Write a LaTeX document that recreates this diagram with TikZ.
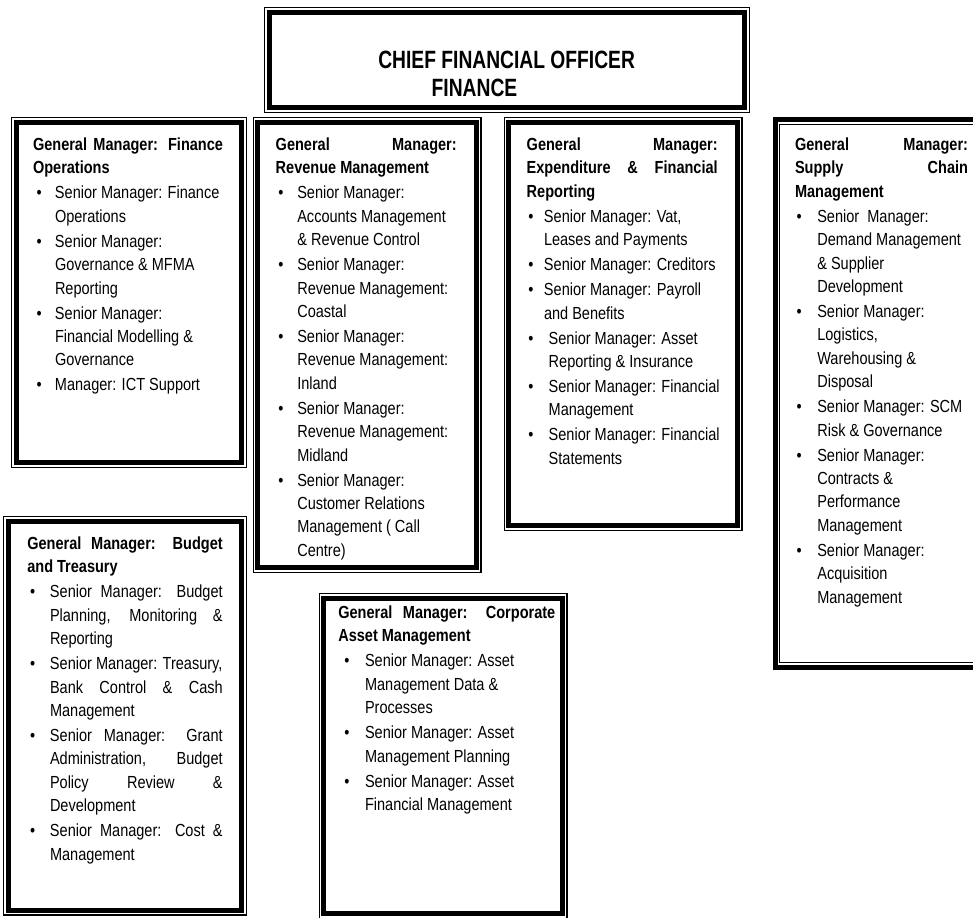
\documentclass[tikz,border=0pt]{standalone}
\usepackage{fontspec}
\setmainfont[FakeStretch=0.83]{Liberation Sans}
\newfontfamily\cfofont[FakeStretch=0.77]{Liberation Sans}
\newlength\ind \newlength\bul \newlength\hw
\newcommand\hd[1]{\makebox[\hw][s]{\bfseries #1}}
\newcommand\jst[1]{\makebox[\dimexpr\hw-\ind\relax][s]{#1}}
\newcommand\itm[1]{\par\hangindent=\ind\hangafter=1\noindent\makebox[\ind][l]{\hspace*{\bul}\textbullet}#1}
\newcommand\content[4]{%
  \begin{minipage}[t]{\dimexpr#1pt+40pt\relax}%
  \setlength\hw{#1pt}\setlength\ind{#2pt}\setlength\bul{#3pt}%
  \fontsize{17.5}{23.4}\selectfont\setlength\parskip{1.6pt}\setlength\parindent{0pt}%
  #4\end{minipage}}
\newcommand\nl{\newline}
\newcommand\tkborder[1]{%
  \draw[line width=1.1pt] ([shift={(0.55,0.55)}]#1.north west) rectangle ([shift={(-0.55,-0.55)}]#1.south east);
  \draw[line width=5pt] ([shift={(5.2,5.2)}]#1.north west) rectangle ([shift={(-5.2,-5.2)}]#1.south east);}
\newcommand\ktborder[1]{%
  \draw[line width=5pt] ([shift={(2.5,2.5)}]#1.north west) rectangle ([shift={(-2.5,-2.5)}]#1.south east);
  \draw[line width=1.1pt] ([shift={(7.15,7.15)}]#1.north west) rectangle ([shift={(-7.15,-7.15)}]#1.south east);}
\begin{document}
\begin{tikzpicture}[x=1pt,y=-1pt,
  bx/.style={anchor=north west, inner sep=0pt, outer sep=0pt},
  tx/.style={anchor=base west, inner sep=0pt, outer sep=0pt},
  cfotext/.style={tx, font={\cfofont\bfseries\fontsize{25}{30}\selectfont}}]
\useasboundingbox (0,0) rectangle (973,917);
\fill[white] (0,0) rectangle (973,917);
\clip (0,0) rectangle (973,917);

% CFO
\node[bx, minimum width=486pt, minimum height=106pt] (cfo) at (264,7) {};
\node[cfotext] (cfoA) at (378.3,68.3) {CHIEF FINANCIAL OFFICER};
\node[cfotext] (cfoB) at (431.7,96.7) {FINANCE};
\tkborder{cfo}

% Finance Operations
\node[bx, minimum width=236pt, minimum height=351pt] (fo) at (11,117) {};
\tkborder{fo}
\node[tx] (foT) at (33,150.5) {\content{190}{22}{3.7}{%
  \hd{General Manager: Finance}\nl\textbf{Operations}
  \itm{Senior Manager: Finance\nl Operations}
  \itm{Senior Manager:\nl Governance \& MFMA\nl Reporting}
  \itm{Senior Manager:\nl Financial Modelling \&\nl Governance}
  \itm{Manager: ICT Support}}};

% Revenue Management
\node[bx, minimum width=229pt, minimum height=456pt] (rev) at (252.5,117) {};
\tkborder{rev}
\node[tx] (revT) at (275.7,150.5) {\content{181}{21.6}{2.7}{%
  \hd{General Manager:}\nl\textbf{Revenue Management}
  \itm{Senior Manager:\nl Accounts Management\nl \& Revenue Control}
  \itm{Senior Manager:\nl Revenue Management:\nl Coastal}
  \itm{Senior Manager:\nl Revenue Management:\nl Inland}
  \itm{Senior Manager:\nl Revenue Management:\nl Midland}
  \itm{Senior Manager:\nl Customer Relations\nl Management ( Call\nl Centre)}}};

% Expenditure & Financial Reporting
\node[bx, minimum width=239pt, minimum height=414pt] (exp) at (503.5,117) {};
\tkborder{exp}
\node[tx] (expT) at (526.7,150.5) {\content{191}{17.3}{1.7}{%
  \hd{General Manager:}\nl\hd{Expenditure \& Financial}\nl\textbf{Reporting}
  \itm{Senior Manager: Vat,\nl Leases and Payments}
  \itm{Senior Manager: Creditors}
  \itm{Senior Manager: Payroll\nl and Benefits}
  \setlength\ind{22pt}%
  \itm{Senior Manager: Asset\nl Reporting \& Insurance}
  \itm{Senior Manager: Financial\nl Management}
  \itm{Senior Manager: Financial\nl Statements}}};

% Supply Chain Management
\node[bx, minimum width=225pt, minimum height=553pt] (sup) at (772.5,117) {};
\ktborder{sup}
\node[tx] (supT) at (795,150.5) {\content{173}{22.3}{1.7}{%
  \hd{General Manager:}\nl\hd{Supply Chain}\nl\textbf{Management}
  \itm{Senior\ \ Manager:\nl Demand Management\nl \& Supplier\nl Development}
  \itm{Senior Manager:\nl Logistics,\nl Warehousing \&\nl Disposal}
  \itm{Senior Manager: SCM\nl Risk \& Governance}
  \itm{Senior Manager:\nl Contracts \&\nl Performance\nl Management}
  \itm{Senior Manager:\nl Acquisition\nl Management}}};

% Budget and Treasury
\node[bx, minimum width=244pt, minimum height=399.5pt] (bud) at (3,516) {};
\tkborder{bud}
\node[tx] (budT) at (27.3,549.5) {\content{195.4}{22.7}{2.7}{%
  \hd{General Manager: Budget}\nl\textbf{and Treasury}
  \itm{\jst{Senior Manager: Budget}\nl\jst{Planning, Monitoring \&}\nl Reporting}
  \itm{Senior Manager: Treasury,\nl\jst{Bank Control \& Cash}\nl Management}
  \itm{\jst{Senior Manager: Grant}\nl\jst{Administration, Budget}\nl\jst{Policy Review \&}\nl Development}
  \itm{\jst{Senior Manager: Cost \&}\nl Management}}};

% Corporate Asset Management
\node[bx, minimum width=249pt, minimum height=326pt] (cam) at (318.5,593) {};
\tkborder{cam}
\node[tx] (camT) at (338.3,618.5) {\content{217}{26.7}{6}{%
  \hd{General Manager: Corporate}\nl\textbf{Asset Management}
  \itm{Senior Manager: Asset\nl Management Data \&\nl Processes}
  \itm{Senior Manager: Asset\nl Management Planning}
  \itm{Senior Manager: Asset\nl Financial Management}}};
\end{tikzpicture}
\end{document}
